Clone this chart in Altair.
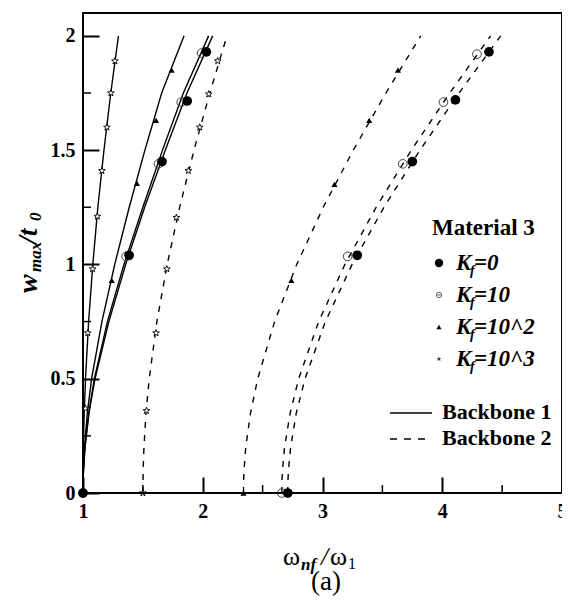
import altair as alt
import pandas as pd

FONT = "Liberation Serif"

# ---------------- data ----------------
Y_LEVELS = [0, 0.05, 0.1, 0.2, 0.35, 0.5, 0.75, 1.0, 1.25, 1.5, 1.75, 2.0]

BB1_K0 = [1.0, 1.001, 1.004, 1.017, 1.05, 1.1, 1.216, 1.356, 1.515, 1.687, 1.868, 2.083]
BB1_K10 = [1.0, 1.001, 1.004, 1.016, 1.048, 1.095, 1.204, 1.342, 1.5, 1.664, 1.838, 2.049]
BB1_K100 = [1.0, 1.001, 1.003, 1.012, 1.036, 1.072, 1.158, 1.265, 1.386, 1.517, 1.657, 1.844]
BB1_K1000 = [1.0, 1.0, 1.001, 1.003, 1.01, 1.021, 1.047, 1.082, 1.124, 1.175, 1.232, 1.296]

BB2_K0 = [2.71, 2.711, 2.716, 2.734, 2.781, 2.854, 3.024, 3.247, 3.513, 3.814, 4.141, 4.488]
BB2_K10 = [2.66, 2.661, 2.666, 2.683, 2.73, 2.801, 2.968, 3.187, 3.448, 3.742, 4.063, 4.404]
BB2_K100 = [2.34, 2.341, 2.345, 2.359, 2.399, 2.459, 2.6, 2.785, 3.006, 3.257, 3.53, 3.82]
BB2_K1000 = [1.5, 1.501, 1.502, 1.509, 1.526, 1.553, 1.617, 1.703, 1.807, 1.927, 2.059, 2.202]

MK_K0_X = [1.0, 1.385, 1.66, 1.87, 2.03, 2.71, 3.29, 3.75, 4.11, 4.39]
MK_K0_Y = [0, 1.04, 1.45, 1.715, 1.93, 0, 1.04, 1.45, 1.72, 1.93]
MK_K10_X = [1.0, 1.36, 1.63, 1.82, 1.99, 2.66, 3.21, 3.67, 4.01, 4.29]
MK_K10_Y = [0, 1.035, 1.44, 1.71, 1.925, 0, 1.035, 1.44, 1.71, 1.92]
MK_K100_X = [1.0, 1.24, 1.45, 1.61, 1.74, 2.34, 2.74, 3.1, 3.39, 3.63]
MK_K100_Y = [0, 0.93, 1.355, 1.63, 1.85, 0, 0.93, 1.35, 1.63, 1.85]
MK_K1000_X = [1.0, 1.02, 1.04, 1.08, 1.12, 1.158, 1.2, 1.233, 1.267,
              1.5, 1.53, 1.61, 1.70, 1.78, 1.88, 1.975, 2.05, 2.125]
MK_K1000_Y = [0, 0.37, 0.70, 0.98, 1.21, 1.41, 1.60, 1.75, 1.89,
              0, 0.36, 0.70, 0.98, 1.205, 1.41, 1.60, 1.745, 1.89]

X_DOMAIN = [1, 5]
Y_DOMAIN = [0, 2.1]
X_MAJOR = [1, 2, 3, 4, 5]
X_MINOR = [1.5, 2.5, 3.5, 4.5]
Y_MAJOR = [0, 0.5, 1, 1.5, 2]
Y_MINOR = [0.25, 0.75, 1.25, 1.75]

LEGEND_TITLE = "Material 3"
LEGEND_VALUES = ["=0", "=10", "=10^2", "=10^3"]
LINE_LEGEND = ["Backbone 1", "Backbone 2"]

# ---------------- tables ----------------
def line_table(curves):
    rows = []
    for name, xs_ in curves.items():
        for x, y in zip(xs_, Y_LEVELS):
            rows.append({"series": name, "x": x, "y": y})
    return pd.DataFrame(rows)

solid_df = line_table({"K0": BB1_K0, "K10": BB1_K10, "K100": BB1_K100, "K1000": BB1_K1000})
dash_df = line_table({"K0": BB2_K0, "K10": BB2_K10, "K100": BB2_K100, "K1000": BB2_K1000})

W, H = 479, 480
xs = alt.Scale(domain=X_DOMAIN, nice=False, zero=False)
ys = alt.Scale(domain=Y_DOMAIN, nice=False, zero=False)

axis_common = dict(domain=False, grid=False, title=None, tickColor="black",
                   labelColor="black", labelFont=FONT, labelFontSize=20,
                   labelFontWeight="bold", labelFlush=False, labelOverlap=False,
                   format="~g")
# the same axis objects are used by every layer so that they merge into one
X_AXIS = alt.Axis(values=X_MAJOR, orient="bottom", offset=-16, tickSize=16,
                  tickWidth=2, labelPadding=8, **axis_common)
Y_AXIS = alt.Axis(values=Y_MAJOR, orient="left", offset=-16, tickSize=16,
                  tickWidth=2, labelPadding=8, **axis_common)


def X(field):
    return alt.X(field, scale=xs, axis=X_AXIS, title=None)


def Y(field):
    return alt.Y(field, scale=ys, axis=Y_AXIS, title=None)


solid = alt.Chart(solid_df).mark_line(color="black", strokeWidth=1.4).encode(
    x=X("x:Q"), y=Y("y:Q"), detail="series:N", order="y:Q")
dashed = alt.Chart(dash_df).mark_line(color="black", strokeWidth=1.4, strokeDash=[6, 7]).encode(
    x=X("x:Q"), y=Y("y:Q"), detail="series:N", order="y:Q")

# minor inward ticks drawn from the tick value lists
minor_x = alt.Chart(pd.DataFrame({"x": X_MINOR})).mark_rule(color="black", strokeWidth=1.5).encode(
    x=X("x:Q"), y=alt.value(H - 8), y2=alt.value(H))
minor_y = alt.Chart(pd.DataFrame({"y": Y_MINOR})).mark_rule(color="black", strokeWidth=1.5).encode(
    y=Y("y:Q"), x=alt.value(0), x2=alt.value(8))

STAR = "M0,-1L0.235,-0.324L0.951,-0.309L0.38,0.124L0.588,0.809L0,0.4L-0.588,0.809L-0.38,0.124L-0.951,-0.309L-0.235,-0.324Z"


def markers(xv, yv, **mk):
    df = pd.DataFrame({"x": xv, "y": yv})
    return alt.Chart(df).mark_point(**mk).encode(x=X("x:Q"), y=Y("y:Q"))

m_star = markers(MK_K1000_X, MK_K1000_Y, shape=STAR, size=50, filled=True,
                 fill="white", stroke="black", strokeWidth=0.9, opacity=1)
m_tri = markers(MK_K100_X, MK_K100_Y, shape="triangle-up", size=38, filled=True,
                color="black", opacity=1)
m_open = markers(MK_K10_X, MK_K10_Y, shape="circle", size=75, filled=False,
                 color="#444444", strokeWidth=1, opacity=1)
m_fill = markers(MK_K0_X, MK_K0_Y, shape="circle", size=95, filled=True,
                 color="black", opacity=1)


def seg(x1, x2, y1, y2=None, dash=None, width=1.4):
    kw = dict(color="black", strokeWidth=width)
    if dash:
        kw["strokeDash"] = dash
    enc = dict(x=alt.value(x1), y=alt.value(y1))
    if x2 is not None:
        enc["x2"] = alt.value(x2)
    if y2 is not None:
        enc["y2"] = alt.value(y2)
    return alt.Chart(pd.DataFrame({"a": [0]})).mark_rule(**kw).encode(**enc)


frame = [
    seg(0, W, 0, width=2),
    seg(0, W, H, width=2),
    seg(0, None, 0, H, width=2),
    seg(W, None, 0, H, width=2),
]

# ---------------- text helpers (pixel positions relative to plot area) ----------------
def txt(s, x, y, size, weight="normal", style="normal", angle=0, align="left"):
    return alt.Chart(pd.DataFrame({"t": [s]})).mark_text(
        font=FONT, fontSize=size, fontWeight=weight, fontStyle=style,
        angle=angle, align=align, baseline="alphabetic", color="black",
    ).encode(text="t:N", x=alt.value(x), y=alt.value(y))


def sym(x, y, **mk):
    return alt.Chart(pd.DataFrame({"a": [0]})).mark_point(**mk).encode(
        x=alt.value(x), y=alt.value(y))


texts = []
# x-axis title  ω_nf / ω_1
texts += [
    txt("ω", 200, 552, 26),
    txt("nf", 218, 557, 17, weight="bold", style="italic"),
    txt("/", 238, 552, 26, style="italic"),
    txt("ω", 247, 552, 26),
    txt("1", 265, 556, 16),
]
# caption
texts.append(txt("(a)", 243, 577, 27, align="center"))
# y-axis title  w_max / t_0 (rotated)
texts += [
    txt("w", -46, 280, 28, weight="bold", style="italic", angle=270),
    txt("max", -42, 259, 17, weight="bold", style="italic", angle=270),
    txt("/t", -46, 231, 28, weight="bold", style="italic", angle=270),
    txt("0", -42, 208, 17, weight="bold", style="italic", angle=270),
]

# legend
LX_SYM, LX_LAB = 356, 373
ROW_BASE = [257, 289, 321, 353]
legend = [txt(LEGEND_TITLE, 349, 222, 23, weight="bold")]
for val, yb in zip(LEGEND_VALUES, ROW_BASE):
    legend += [
        txt("K", LX_LAB, yb, 23, weight="bold", style="italic"),
        txt("f", LX_LAB + 14, yb + 5, 14, weight="bold", style="italic"),
        txt(val, LX_LAB + 18, yb, 23, weight="bold", style="italic"),
    ]
legend += [
    sym(LX_SYM, ROW_BASE[0] - 7, shape="circle", size=70, filled=True, color="black", opacity=1),
    sym(LX_SYM, ROW_BASE[1] - 7, shape="circle", size=28, filled=False, color="#444444", strokeWidth=0.8, opacity=1),
    sym(LX_SYM, ROW_BASE[1] - 7, shape="stroke", size=14, filled=False, color="#444444", strokeWidth=0.8, opacity=1),
    sym(LX_SYM, ROW_BASE[2] - 7, shape="triangle-up", size=26, filled=True, color="black", opacity=1),
    sym(LX_SYM, ROW_BASE[3] - 7, shape=STAR, size=26, filled=True, color="#333333", opacity=1),
    seg(307, 349, 400),
    seg(307, 349, 426, dash=[7, 7]),
    txt(LINE_LEGEND[0], 359, 406, 22, weight="bold"),
    txt(LINE_LEGEND[1], 359, 432, 22, weight="bold"),
]

chart = alt.layer(
    solid, dashed, minor_x, minor_y, m_star, m_tri, m_open, m_fill, *texts, *legend, *frame
).properties(
    width=W, height=H,
    background="white",
    autosize=alt.AutoSizeParams(type="none"),
    padding={"left": 75, "top": 5, "right": 0, "bottom": 104},
).configure_view(
    stroke="black", strokeWidth=2
)

chart.save("out.html", embed_options={"renderer": "svg", "actions": False})
